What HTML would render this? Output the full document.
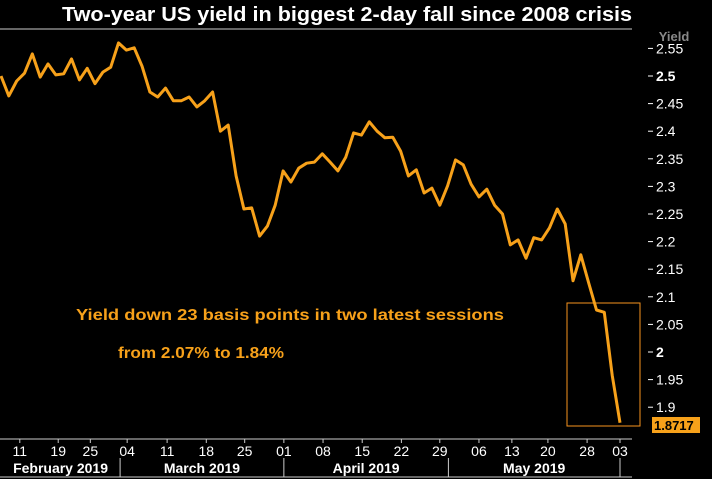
<!DOCTYPE html>
<html><head><meta charset="utf-8"><style>
body{margin:0;background:#000;}
svg{display:block;font-family:"Liberation Sans","DejaVu Sans",sans-serif;}
</style></head><body>
<svg id="chart" width="712" height="479" viewBox="0 0 712 479">
<rect width="712" height="479" fill="#000"/>
<text x="347" y="21" fill="#fff" font-size="20" font-weight="bold" text-anchor="middle" textLength="570" lengthAdjust="spacingAndGlyphs">Two-year US yield in biggest 2-day fall since 2008 crisis</text>
<line x1="0" y1="29" x2="632" y2="29" stroke="#ccc" stroke-width="1"/>
<text x="674" y="41" fill="#888" font-size="13" font-weight="bold" text-anchor="middle">Yield</text>
<g id="yaxis"></g>
<g id="xaxis"></g>
<rect x="567" y="303" width="73" height="123" fill="none" stroke="#f7931e" stroke-width="1"/>
<polyline id="line" fill="none" stroke="#f7a11a" stroke-width="3" stroke-linejoin="round"/>
<text x="76" y="320" fill="#f7a11a" font-size="16" font-weight="bold" textLength="428" lengthAdjust="spacingAndGlyphs">Yield down 23 basis points in two latest sessions</text>
<text x="118" y="358" fill="#f7a11a" font-size="16" font-weight="bold" textLength="166" lengthAdjust="spacingAndGlyphs">from 2.07% to 1.84%</text>
<rect x="652" y="417" width="48" height="16" fill="#f7a11a"/>
<text x="654" y="430" fill="#000" font-size="13" font-weight="bold">1.8717</text>
</svg>
<script>
const values=[2.500,2.464,2.491,2.505,2.540,2.498,2.522,2.502,2.504,2.531,2.493,2.514,2.486,2.507,2.516,2.560,2.547,2.551,2.518,2.471,2.462,2.478,2.455,2.455,2.462,2.444,2.455,2.471,2.400,2.411,2.319,2.259,2.261,2.210,2.228,2.266,2.328,2.308,2.333,2.342,2.344,
2.359,2.344,2.328,2.353,2.397,2.393,2.417,2.400,2.388,2.389,2.364,2.319,2.330,2.288,2.297,2.266,2.301,2.348,2.339,2.304,2.281,2.295,2.266,2.250,2.194,2.203,2.170,2.207,2.203,2.225,2.259,2.232,2.129,2.176,2.125,2.076,2.072,1.958,1.8717];
const yTicks=[2.55,2.5,2.45,2.4,2.35,2.3,2.25,2.2,2.15,2.1,2.05,2,1.95,1.9];
const yTickLabels=["2.55","2.5","2.45","2.4","2.35","2.3","2.25","2.2","2.15","2.1","2.05","2","1.95","1.9"];
const dayTickIdx=[2.4,7.3,11.4,16.1,21.2,26.2,31.1,36.1,41.1,46.1,51.1,56.0,61.0,65.2,69.8,74.8,79];
const dayTickLabels=["11","19","25","04","11","18","25","01","08","15","22","29","06","13","20","28","03"];
const months=["February 2019","March 2019","April 2019","May 2019"];
const monthStartIdx=[0,15.2,36.1,57.1,79];
const NS="http://www.w3.org/2000/svg";
function xs(i){return 1+i*(619/(values.length-1));}
function ys(v){return 352-(v-2)*552;}
function mk(tag,attrs,parent){const e=document.createElementNS(NS,tag);for(const k in attrs)e.setAttribute(k,attrs[k]);parent.appendChild(e);return e;}
const line=document.getElementById('line');
line.setAttribute('points',values.map((v,i)=>xs(i).toFixed(1)+','+ys(v).toFixed(1)).join(' '));
const ya=document.getElementById('yaxis');
yTicks.forEach((t,k)=>{
 const y=ys(t);
 const tk=mk('line',{x1:648,x2:653,y1:y,y2:y,stroke:'#fff','stroke-width':1},ya);
 
 
 const tx=mk('text',{x:656,y:y+5,fill:'#fff','font-size':14,'font-weight':(t===2.5||t===2)?'bold':'normal'},ya);
 
 
 tx.textContent=yTickLabels[k];
});
const xa=document.getElementById('xaxis');
const al=mk('line',{x1:0,x2:632,y1:439,y2:439,stroke:'#ccc','stroke-width':1},xa);


const bl=mk('line',{x1:0,x2:632,y1:477,y2:477,stroke:'#ccc','stroke-width':1},xa);


dayTickIdx.forEach((d,k)=>{
 const x=xs(d);
 const tk=mk('line',{x1:x,x2:x,y1:439,y2:443,stroke:'#ccc','stroke-width':1},xa);
 
 
 const tx=mk('text',{x:x,y:456,fill:'#fff','font-size':14,'text-anchor':'middle'},xa);
 
 
 tx.textContent=dayTickLabels[k];
});
months.forEach((m,k)=>{
 const x0=xs(monthStartIdx[k]),x1=xs(monthStartIdx[k+1]);
 if(k>0){const s=mk('line',{x1:x0,x2:x0,y1:458,y2:477,stroke:'#ccc','stroke-width':1},xa);
  
  }
 const tx=mk('text',{x:(x0+x1)/2,y:473,fill:'#fff','font-size':14,'font-weight':'bold','text-anchor':'middle'},xa);
 
 
 tx.textContent=m;
});
const ms=mk('line',{x1:xs(79),x2:xs(79),y1:458,y2:477,stroke:'#ccc','stroke-width':1},xa);


</script>
</body></html>
